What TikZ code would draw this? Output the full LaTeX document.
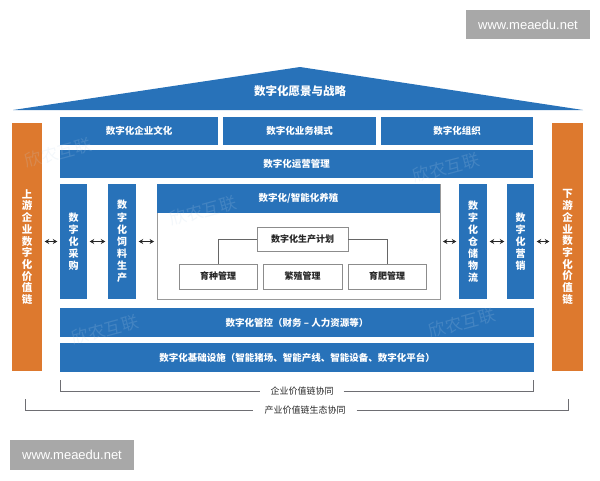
\documentclass[tikz,border=0pt]{standalone}
\usepackage{fontspec}
\setmainfont{Noto Sans CJK SC}
\newfontfamily\latfont{Liberation Sans}
\usetikzlibrary{arrows.meta}
\definecolor{cblue}{RGB}{40,114,185}
\definecolor{corange}{RGB}{221,121,46}
\definecolor{cgray}{RGB}{110,110,115}
\begin{document}
\begin{tikzpicture}[x=1pt,y=-1pt,
  blk/.style={fill=cblue, draw=none, text=white, inner sep=0pt, font=\bfseries\fontsize{9.5}{11}\selectfont},
  vblk/.style={blk, align=center, font=\bfseries\fontsize{10}{12.1}\selectfont},
  org/.style={fill=corange, draw=none, text=white, inner sep=0pt, align=center, font=\bfseries\fontsize{10.5}{11.7}\selectfont},
  wbox/.style={fill=white, draw=black!45, line width=0.8pt, text=black!85, inner sep=0pt, font=\bfseries\fontsize{9}{11}\selectfont},
  dbl/.style={{Stealth[length=4.5pt,width=5pt]}-{Stealth[length=4.5pt,width=5pt]}, line width=1.2pt, black!85, shorten >=2.5pt, shorten <=2.5pt},
  tree/.style={draw=black!60, line width=0.7pt},
  brk/.style={draw=cgray, line width=0.9pt},
  brtxt/.style={text=black!85, font=\fontsize{9}{11}\selectfont, inner ysep=0pt},
  wmk/.style={fill=black!34, text=white, inner sep=0pt, font=\latfont\fontsize{13}{15}\selectfont},
  faint/.style={text=cblue!30, opacity=0.18, rotate=15, inner sep=0pt, font=\fontsize{17}{18}\selectfont}
]
\useasboundingbox (0,0) rectangle (600,480);

% roof
\fill[cblue] (13,110) -- (300,67) -- (583,110) -- cycle;
\node[text=white, font=\bfseries\fontsize{11.5}{13}\selectfont] (roof) at (300,91) {数字化愿景与战略};

% row 1
\node[blk, minimum width=158pt, minimum height=28pt] (r1a) at (139,131) {数字化企业文化};
\node[blk, minimum width=153pt, minimum height=28pt] (r1b) at (299.5,131) {数字化业务模式};
\node[blk, minimum width=152pt, minimum height=28pt] (r1c) at (457,131) {数字化组织};

% row 2
\node[blk, minimum width=473pt, minimum height=28pt] (r2) at (296.5,164) {数字化运营管理};

% side orange
\node[org, minimum width=30pt, minimum height=248pt] (upL) at (27,247) {上\\游\\企\\业\\数\\字\\化\\价\\值\\链};
\node[org, minimum width=31pt, minimum height=248pt] (dnR) at (567.5,247) {下\\游\\企\\业\\数\\字\\化\\价\\值\\链};

% columns
\node[vblk, minimum width=27pt, minimum height=115pt] (c1) at (73.5,241.5) {数\\字\\化\\采\\购};
\node[vblk, minimum width=28pt, minimum height=115pt] (c2) at (122,241.5) {数\\字\\化\\饲\\料\\生\\产};
\node[vblk, minimum width=28pt, minimum height=115pt] (c3) at (473,241.5) {数\\字\\化\\仓\\储\\物\\流};
\node[vblk, minimum width=27pt, minimum height=115pt] (c4) at (520.5,241.5) {数\\字\\化\\营\\销};

% big box
\node[fill=white, draw=black!40, line width=0.8pt, minimum width=283pt, minimum height=115pt, inner sep=0pt] (big) at (298.5,241.5) {};
\node[blk, minimum width=283pt, minimum height=29pt] (bigh) at (298.5,198.5) {数字化/智能化养殖};

\node[wbox, minimum width=91pt, minimum height=24pt] (plan) at (302.5,239) {数字化生产计划};
\node[wbox, minimum width=78pt, minimum height=25pt] (yz) at (218,276.5) {育种管理};
\node[wbox, minimum width=79pt, minimum height=25pt] (fz) at (302.5,276.5) {繁殖管理};
\node[wbox, minimum width=78pt, minimum height=25pt] (yf) at (387,276.5) {育肥管理};
\draw[tree] (plan.west) -| (yz.north);
\draw[tree] (plan.east) -| (yf.north);

% arrows
\draw[dbl] (upL.east |- c1.west) -- (c1.west);
\draw[dbl] (c1.east) -- (c2.west);
\draw[dbl] (c2.east) -- (big.west);
\draw[dbl] (big.east) -- (c3.west);
\draw[dbl] (c3.east) -- (c4.west);
\draw[dbl] (c4.east) -- (dnR.west |- c4.east);

% bottom rows
\node[blk, minimum width=474pt, minimum height=29pt] (gk) at (297,322.5) {数字化管控（财务 – 人力资源等）};
\node[blk, minimum width=474pt, minimum height=29pt] (jc) at (297,357.5) {数字化基础设施（智能猪场、智能产线、智能设备、数字化平台）};

% brackets
\coordinate (e1) at (60,380);
\coordinate (e2) at (533,380);
\node[brtxt, inner xsep=10pt] (t1) at (302,391) {企业价值链协同};
\draw[brk] (e1) |- (t1.west);
\draw[brk] (t1.east) -| (e2);
\coordinate (e3) at (25,399);
\coordinate (e4) at (568,399);
\node[brtxt, inner xsep=11pt] (t2) at (305,410) {产业价值链生态协同};
\draw[brk] (e3) |- (t2.west);
\draw[brk] (t2.east) -| (e4);

% faint watermarks
\node[faint] (f1) at (58,153) {欣农互联};
\node[faint] (f2) at (446,168) {欣农互联};
\node[faint] (f3) at (203,211) {欣农互联};
\node[faint] (f4) at (105,330) {欣农互联};
\node[faint] (f5) at (462,323) {欣农互联};

% site marks
\node[wmk, minimum width=124pt, minimum height=29pt] (w1) at (528,24.5) {www.meaedu.net};
\node[wmk, minimum width=124pt, minimum height=30pt] (w2) at (72,455) {www.meaedu.net};
\end{tikzpicture}
\end{document}
